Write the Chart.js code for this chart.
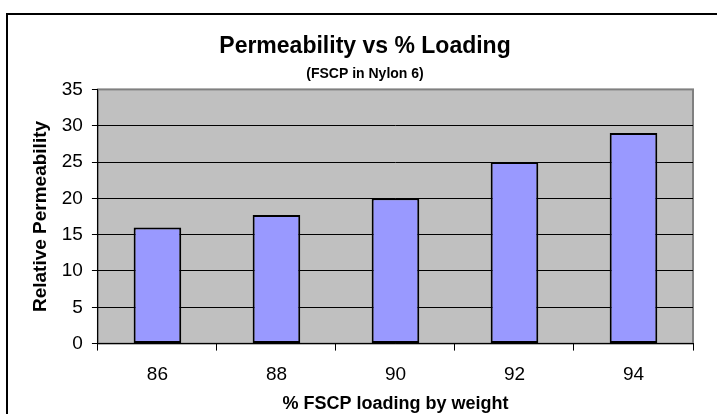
<!DOCTYPE html>
<html>
<head>
<meta charset="utf-8">
<script src="https://cdn.jsdelivr.net/npm/chart.js@4/dist/chart.umd.min.js"></script>
<style>
  html, body { margin: 0; padding: 0; background: #fff; }
  #wrap { width: 717px; height: 414px; position: relative; }
</style>
</head>
<body>
<div id="wrap"><canvas id="permChart"></canvas></div>
<script>
const loadings = ["86", "88", "90", "92", "94"];
const permeability = [16, 17.7, 20, 25, 29];
const yTicks = [0, 5, 10, 15, 20, 25, 30, 35];

Chart.defaults.font.family = "'Liberation Sans', Arial, sans-serif";
Chart.defaults.color = "#000";

// grey plot area + outer chart border like the Excel original
const excelFrame = {
  id: "excelFrame",
  beforeDraw(chart) {
    const { ctx, chartArea } = chart;
    const w = chartArea.right - chartArea.left;
    const h = chartArea.bottom - chartArea.top;
    ctx.save();
    ctx.strokeStyle = "#000";
    ctx.lineWidth = 2;
    ctx.strokeRect(7, 14, 900, 600);
    ctx.fillStyle = "#C0C0C0";
    ctx.fillRect(chartArea.left, chartArea.top, w, h);
    ctx.strokeStyle = "#808080";
    ctx.lineWidth = 2;
    ctx.strokeRect(chartArea.left, chartArea.top, w, h);
    ctx.restore();
  }
};

const ctx = document.getElementById("permChart");

const permChart = new Chart(ctx, {
  type: "bar",
  data: {
    labels: loadings,
    datasets: [
      {
        label: "Relative Permeability",
        data: permeability,
        backgroundColor: "#9999FF",
        borderColor: "#000",
        borderWidth: 2,
        borderSkipped: false,
        barPercentage: 0.4,
        categoryPercentage: 1
      }
    ]
  },
  options: {
    responsive: true,
    maintainAspectRatio: false,
    animation: false,
    layout: {
      padding: {
        left: 37,
        right: 24,
        top: 0,
        bottom: 0
      }
    },
    plugins: {
      legend: { display: false },
      tooltip: { enabled: false },
      title: {
        display: true,
        text: "Permeability vs % Loading",
        font: { size: 23, weight: "bold" },
        padding: { top: 33, bottom: 2 }
      },
      subtitle: {
        display: true,
        text: "(FSCP in Nylon 6)",
        font: { size: 14, weight: "bold" },
        padding: { top: 3, bottom: 7 }
      }
    },
    scales: {
      x: {
        grid: {
          display: true,
          offset: true,
          drawOnChartArea: false,
          drawTicks: true,
          tickLength: 7,
          color: "#000"
        },
        border: { color: "#000", width: 1 },
        ticks: {
          font: { size: 19 },
          padding: 13
        },
        title: {
          display: true,
          text: "% FSCP loading by weight",
          font: { size: 18, weight: "bold" },
          padding: { top: -6, bottom: -1 }
        }
      },
      y: {
        min: 0,
        max: 35,
        afterBuildTicks(axis) {
          axis.ticks = yTicks.map(v => ({ value: v }));
        },
        grid: {
          color: c => (c.tick && c.tick.value === 35 ? "#808080" : "#000"),
          tickColor: "#000",
          lineWidth: 1,
          drawTicks: true,
          tickLength: 6
        },
        border: { color: "#000", width: 1 },
        ticks: {
          font: { size: 19 },
          padding: 9
        },
        title: {
          display: true,
          text: "Relative Permeability",
          font: { size: 19, weight: "bold" },
          padding: { top: -8, bottom: 1 }
        }
      }
    }
  },
  plugins: [excelFrame]
});
</script>
</body>
</html>
